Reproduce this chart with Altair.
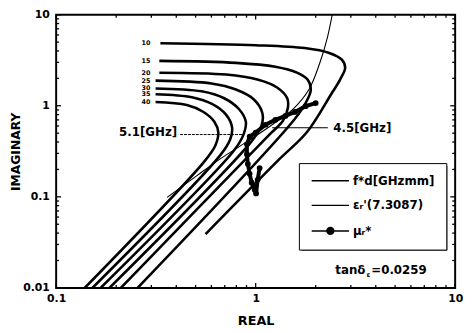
import altair as alt
import pandas as pd

# ---------------- data ----------------
LBL_FD = "f*d[GHzmm]"
LBL_EPS = "εᵣ'(7.3087)"
LBL_MU = "μᵣ*"

fd_labels = [10, 15, 20, 25, 30, 35, 40]

fd10_x = [0.333, 1.0, 1.76, 2.34, 2.71, 2.81, 2.65, 2.39, 1.80, 1.30, 0.561]
fd10_y = [4.87, 4.63, 4.30, 3.80, 3.19, 2.61, 1.94, 1.34, 0.508, 0.253, 0.039]
fd15_x = [0.329, 0.796, 1.255, 1.61, 1.82, 1.89, 1.80, 1.574, 0.256]
fd15_y = [3.11, 2.96, 2.68, 2.31, 1.94, 1.51, 1.12, 0.719, 0.01]
fd20_x = [0.329, 0.712, 1.02, 1.28, 1.44, 1.45, 1.37, 1.146, 0.211]
fd20_y = [2.31, 2.20, 1.94, 1.59, 1.21, 0.944, 0.684, 0.459, 0.01]
fd25_x = [0.315, 0.600, 0.796, 0.977, 1.08, 1.07, 0.944, 0.185]
fd25_y = [1.89, 1.76, 1.51, 1.18, 0.834, 0.604, 0.396, 0.01]
fd30_x = [0.315, 0.536, 0.695, 0.824, 0.893, 0.873, 0.780, 0.167]
fd30_y = [1.55, 1.44, 1.21, 0.921, 0.667, 0.495, 0.324, 0.01]
fd35_x = [0.315, 0.479, 0.607, 0.712, 0.762, 0.745, 0.665, 0.152]
fd35_y = [1.34, 1.24, 1.04, 0.794, 0.574, 0.427, 0.287, 0.01]
fd40_x = [0.315, 0.452, 0.548, 0.621, 0.650, 0.628, 0.555, 0.139]
fd40_y = [1.10, 1.02, 0.855, 0.667, 0.508, 0.367, 0.247, 0.01]

eps_x = [2.42, 2.29, 2.09, 1.85, 1.54, 1.19, 0.893, 0.673, 0.506, 0.360]
eps_y = [10.0, 5.65, 2.89, 1.51, 0.921, 0.604, 0.396, 0.266, 0.170, 0.0986]

mu_x = [1.047, 1.023, 1.005, 0.989, 0.955, 0.933, 0.914, 0.904, 0.904, 0.933,
        1.0, 1.12, 1.255, 1.41, 1.574, 1.78, 2.0]
mu_y = [0.207, 0.154, 0.109, 0.120, 0.143, 0.179, 0.229, 0.294, 0.377, 0.459,
        0.508, 0.619, 0.701, 0.774, 0.855, 0.99, 1.07]

# curve-number labels (left of each curve)
fd_label_x = [0.297] * 7
fd_label_y = [4.87, 3.11, 2.31, 1.89, 1.55, 1.34, 1.10]

# frequency annotations
ann_text = ["5.1[GHz]", "4.5[GHz]"]
ann_x = [0.404, 2.45]
ann_y = [0.508, 0.574]
lead51_x = [0.418, 0.873]
lead51_y = 0.483
lead45_x = [1.21, 2.30]
lead45_y = 0.574

tan_x = 3.55
tan_y = 0.0157

x_major = [0.1, 1, 10]
x_minor = [0.2, 0.3, 0.4, 0.5, 0.6, 0.7, 0.8, 0.9, 2, 3, 4, 5, 6, 7, 8, 9]
y_major = [0.01, 0.1, 1, 10]
y_minor = [0.02, 0.03, 0.04, 0.05, 0.06, 0.07, 0.08, 0.09,
           0.2, 0.3, 0.4, 0.5, 0.6, 0.7, 0.8, 0.9,
           2, 3, 4, 5, 6, 7, 8, 9]

# ---------------- tables ----------------
W, H = 406, 278
FONT = "DejaVu Sans"

rows = []
all_fd = [(fd10_x, fd10_y), (fd15_x, fd15_y), (fd20_x, fd20_y), (fd25_x, fd25_y),
          (fd30_x, fd30_y), (fd35_x, fd35_y), (fd40_x, fd40_y)]
for lab, (cx, cy) in zip(fd_labels, all_fd):
    for i, (a, b) in enumerate(zip(cx, cy)):
        rows.append({"series": LBL_FD, "curve": f"fd{lab}", "i": i, "x": a, "y": b})
for i, (a, b) in enumerate(zip(eps_x, eps_y)):
    rows.append({"series": LBL_EPS, "curve": "eps", "i": i, "x": a, "y": b})
lines_df = pd.DataFrame(rows)

mu_df = pd.DataFrame({"i": range(len(mu_x)), "x": mu_x, "y": mu_y})
lab_df = pd.DataFrame({"t": [str(v) for v in fd_labels], "x": fd_label_x, "y": fd_label_y})
ann51_df = pd.DataFrame({"t": [ann_text[0]], "x": [ann_x[0]], "y": [ann_y[0]]})
ann45_df = pd.DataFrame({"t": [ann_text[1]], "x": [ann_x[1]], "y": [ann_y[1]]})
lead51_df = pd.DataFrame({"x": [lead51_x[0]], "x2": [lead51_x[1]], "y": [lead51_y]})
lead45_df = pd.DataFrame({"x": [lead45_x[0]], "x2": [lead45_x[1]], "y": [lead45_y]})

xs = alt.Scale(type="log", domain=[0.1, 10])
ys = alt.Scale(type="log", domain=[0.01, 10])

XAXIS = alt.Axis(
    values=x_major, format="~g", ticks=False, domain=False, grid=False,
    labelFlush=False, labelPadding=5, labelFont=FONT, labelFontSize=11,
    labelFontWeight="bold", labelColor="black",
    title="REAL", titleFont=FONT, titleFontSize=13, titleFontWeight="bold",
    titleColor="black", titleY=33, titleBaseline="middle")
YAXIS = alt.Axis(
    values=y_major, format="~g", ticks=False, domain=False, grid=False,
    labelPadding=7, labelFont=FONT, labelFontSize=11, labelFontWeight="bold",
    labelColor="black",
    title="IMAGINARY", titleFont=FONT, titleFontSize=12.5, titleFontWeight="bold",
    titleColor="black", titleX=-41, titleY=H / 2, titleBaseline="middle")


def X(f):
    return alt.X(f, scale=xs, axis=XAXIS)


def Y(f):
    return alt.Y(f, scale=ys, axis=YAXIS)


# legend symbols: path units are 5 px (symbolSize 100)
LINE_PATH = "M-1,0H6.6"
MU_PATH = ("M-1,0H6.6"
           "M3.5,0A0.7,0.7,0,1,1,2.1,0A0.7,0.7,0,1,1,3.5,0"
           "M3.22,0A0.42,0.42,0,1,1,2.38,0A0.42,0.42,0,1,1,3.22,0"
           "M2.95,0A0.15,0.15,0,1,1,2.65,0A0.15,0.15,0,1,1,2.95,0")

LEG_X, LEG_Y, LEG_W, LEG_H = 247, 151, 148, 86

legend = alt.Legend(
    orient="none", legendX=LEG_X, legendY=LEG_Y, title=None, direction="vertical",
    symbolSize=100, symbolStrokeWidth=1.5, symbolStrokeColor="black",
    symbolOffset=0, labelOffset=31, labelFont=FONT, labelFontSize=12,
    labelFontWeight="bold", labelColor="black", padding=12, rowPadding=13,
    fillColor="white", strokeColor="black",
)

lines = alt.Chart(lines_df).mark_line(interpolate="catmull-rom", clip=True, color="black").encode(
    x=X("x:Q"), y=Y("y:Q"),
    strokeWidth=alt.StrokeWidth("series:N", scale=alt.Scale(domain=[LBL_FD, LBL_EPS],
                                                            range=[2.6, 1.1]), legend=None),
    detail="curve:N",
    order="i:Q",
)

# legend-only layer (no rows): one entry per series
legend_layer = alt.Chart(alt.Data(values=[])).mark_point(
    filled=False, color="black", opacity=1, strokeWidth=1.5).encode(
    x=X("x:Q"), y=Y("y:Q"),
    shape=alt.Shape("series:N", scale=alt.Scale(domain=[LBL_FD, LBL_EPS, LBL_MU],
                                                range=[LINE_PATH, LINE_PATH, MU_PATH]),
                    legend=legend),
)

mu_line = alt.Chart(mu_df).mark_line(color="black", strokeWidth=4, clip=True).encode(
    x=X("x:Q"), y=Y("y:Q"), order="i:Q")
mu_pts = alt.Chart(mu_df).mark_point(filled=True, color="black", size=34, opacity=1).encode(
    x=X("x:Q"), y=Y("y:Q"))

lead51 = alt.Chart(lead51_df).mark_rule(color="black", strokeWidth=1, strokeDash=[3, 1]).encode(
    x=X("x:Q"), x2="x2:Q", y=Y("y:Q"))
lead45 = alt.Chart(lead45_df).mark_rule(color="black", strokeWidth=1.2).encode(
    x=X("x:Q"), x2="x2:Q", y=Y("y:Q"))

labels = alt.Chart(lab_df).mark_text(align="right", baseline="middle", font=FONT,
                                     fontSize=6.5, fontWeight="bold", color="black").encode(
    x=X("x:Q"), y=Y("y:Q"), text="t:N")

ann_r = alt.Chart(ann51_df).mark_text(
    align="right", baseline="middle", font=FONT, fontSize=12, fontWeight="bold",
    color="black").encode(x=X("x:Q"), y=Y("y:Q"), text="t:N")
ann_l = alt.Chart(ann45_df).mark_text(
    align="left", baseline="middle", font=FONT, fontSize=12, fontWeight="bold",
    color="black").encode(x=X("x:Q"), y=Y("y:Q"), text="t:N")

tan_df = pd.DataFrame({"x": [tan_x], "y": [tan_y]})
tan1 = alt.Chart(tan_df).mark_text(align="right", baseline="middle", font=FONT, fontSize=12,
                                   fontWeight="bold", color="black", text="tanδ").encode(
    x=X("x:Q"), y=Y("y:Q"))
tan2 = alt.Chart(tan_df).mark_text(align="left", baseline="middle", font=FONT, fontSize=7,
                                   fontWeight="bold", color="black", text="ε", dx=1, dy=5).encode(
    x=X("x:Q"), y=Y("y:Q"))
tan3 = alt.Chart(tan_df).mark_text(align="left", baseline="middle", font=FONT, fontSize=12,
                                   fontWeight="bold", color="black", text="=0.0259", dx=6).encode(
    x=X("x:Q"), y=Y("y:Q"))


def xtick_layers(vals, L):
    d = pd.DataFrame({"v": vals})
    b = alt.Chart(d).mark_rule(color="black", strokeWidth=1.3)
    return [b.encode(x=X("v:Q"), y=alt.value(H), y2=alt.value(H - L)),
            b.encode(x=X("v:Q"), y=alt.value(0), y2=alt.value(L))]


def ytick_layers(vals, L):
    d = pd.DataFrame({"v": vals})
    b = alt.Chart(d).mark_rule(color="black", strokeWidth=1.3)
    return [b.encode(y=Y("v:Q"), x=alt.value(0), x2=alt.value(L)),
            b.encode(y=Y("v:Q"), x=alt.value(W), x2=alt.value(W - L))]


ticks = (xtick_layers(x_major, 5) + xtick_layers(x_minor, 3)
         + ytick_layers(y_major, 5) + ytick_layers(y_minor, 3))

shadow = alt.Chart(alt.Data(values=[{}])).mark_rect(color="black").encode(
    x=alt.value(LEG_X + 3), x2=alt.value(LEG_X + 3 + LEG_W),
    y=alt.value(LEG_Y + 3), y2=alt.value(LEG_Y + 3 + LEG_H))

chart = alt.layer(
    lines, legend_layer, shadow, mu_line, mu_pts, lead51, lead45, labels, ann_r, ann_l,
    tan1, tan2, tan3, *ticks
).properties(
    width=W, height=H,
    autosize=alt.AutoSizeParams(type="none"),
    padding={"left": 49, "top": 4, "right": 9, "bottom": 40},
    background="white",
).configure_view(stroke="black", strokeWidth=2)

chart.save("out.html", embed_options={"renderer": "svg", "actions": False})
